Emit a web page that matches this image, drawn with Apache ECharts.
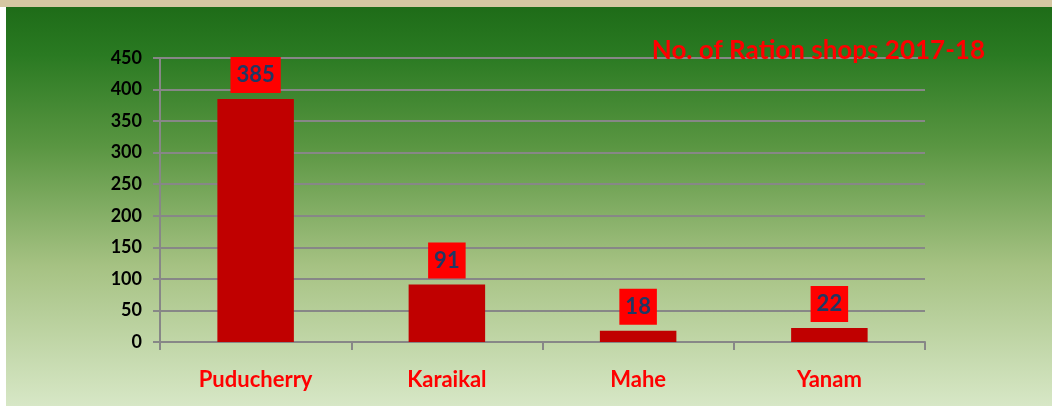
<!DOCTYPE html>
<html>
<head>
<meta charset="utf-8">
<style>
  html, body { margin: 0; padding: 0; background: #fff; }
  #chart { width: 1052px; height: 406px; }
</style>
<script src="https://cdn.jsdelivr.net/npm/echarts@6/dist/echarts.min.js"></script>
</head>
<body>
<div id="chart"></div>
<script>
// data
const regions = ['Puducherry', 'Karaikal', 'Mahe', 'Yanam'];
const shops = [385, 91, 18, 22];
const yTicks = { min: 0, max: 450, step: 50 };

const FONT = "Lato, 'Open Sans', sans-serif";
const AXIS_GREY = '#878787';

const chart = echarts.init(document.getElementById('chart'));

chart.setOption({
  animation: false,
  textStyle: { fontFamily: FONT },
  graphic: [
    // green gradient panel
    {
      type: 'rect', z: -10, silent: true,
      shape: { x: 6, y: 7, width: 1046, height: 399 },
      style: {
        fill: new echarts.graphic.LinearGradient(0, 0, 0, 1, [
          { offset: 0, color: '#1e6c18' },
          { offset: 0.12, color: '#2a7a22' },
          { offset: 0.35, color: '#5a9642' },
          { offset: 0.65, color: '#a6c283' },
          { offset: 1, color: '#d7e7c6' }
        ])
      }
    },
    // beige strip on top
    {
      type: 'rect', z: -10, silent: true,
      shape: { x: 0, y: 0, width: 1052, height: 7 },
      style: { fill: '#d5c7a2' }
    }
  ],
  title: {
    text: 'No. of Ration shops 2017-18',
    right: 62,
    top: 33,
    textStyle: { color: '#ff0000', fontSize: 26, fontWeight: 'bold', fontFamily: FONT }
  },
  grid: { left: 160, right: 127, top: 58, bottom: 64 },
  xAxis: {
    type: 'category',
    data: regions,
    axisLine: { lineStyle: { color: AXIS_GREY, width: 2 } },
    axisTick: { show: true, length: 8, alignWithLabel: false, lineStyle: { color: AXIS_GREY, width: 2 } },
    axisLabel: { color: '#ff0000', fontSize: 22, fontWeight: 'bold', margin: 27, fontFamily: FONT }
  },
  yAxis: {
    type: 'value',
    min: yTicks.min,
    max: yTicks.max,
    interval: yTicks.step,
    axisLine: { show: true, lineStyle: { color: AXIS_GREY, width: 2 } },
    axisTick: { show: true, length: 7, lineStyle: { color: AXIS_GREY, width: 2 } },
    splitLine: { lineStyle: { color: AXIS_GREY, width: 2 } },
    axisLabel: { color: '#000', fontSize: 18, fontWeight: 'bold', margin: 18, fontFamily: FONT }
  },
  series: [{
    type: 'bar',
    data: shops,
    barWidth: '40%',
    itemStyle: { color: '#c00000' },
    label: {
      show: true,
      position: 'top',
      distance: 6,
      color: '#1f3864',
      fontSize: 22,
      fontWeight: 'bold',
      fontFamily: FONT,
      backgroundColor: '#ff0000',
      padding: [7, 6, 7, 6]
    }
  }]
});
</script>
</body>
</html>
